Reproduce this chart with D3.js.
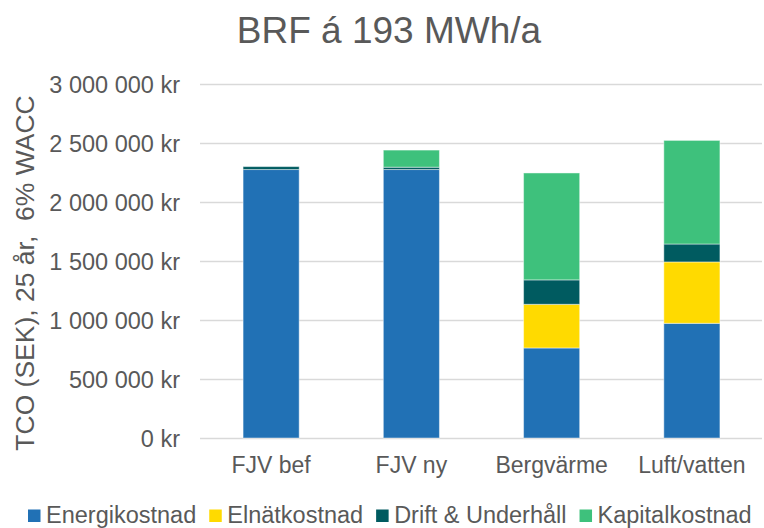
<!DOCTYPE html>
<meta charset="utf-8">
<html>
<script src="https://d3js.org/d3.v7.min.js"></script>
<style>
  body { margin: 0; background: #fff; }
  text { font-family: "Liberation Sans", Arial, sans-serif; fill: #595959; }
</style>
<body>
<div id="my_dataviz"></div>
<script>

    // chart data
    const categories = ["FJV bef", "FJV ny", "Bergvärme", "Luft/vatten"];
    const seriesNames = ["Energikostnad", "Elnätkostnad", "Drift & Underhåll", "Kapitalkostnad"];
    const energikostnad = [2275000, 2275000, 763000, 972000];
    const elnatkostnad = [0, 0, 370000, 520000];
    const driftUnderhall = [25000, 20000, 207000, 152000];
    const kapitalkostnad = [0, 145000, 906000, 878000];
    const yTicks = [0, 500000, 1000000, 1500000, 2000000, 2500000, 3000000];
    const colors = ["#2171b5", "#ffda00", "#005b60", "#3ec17c"];

    const width = 764, height = 528;
    const margin = {top: 84, right: 2, bottom: 90, left: 201};

    const svg = d3.select("#my_dataviz")
      .append("svg")
        .attr("width", width)
        .attr("height", height);

    // build rows for the stack
    const rows = categories.map(function(c, i) {
      return {
        cat: c,
        "Energikostnad": energikostnad[i],
        "Elnätkostnad": elnatkostnad[i],
        "Drift & Underhåll": driftUnderhall[i],
        "Kapitalkostnad": kapitalkostnad[i]
      };
    });
    const stacked = d3.stack().keys(seriesNames)(rows);

    const x = d3.scaleBand()
      .domain(categories)
      .range([margin.left, width - margin.right])
      .paddingInner(0.6)
      .paddingOuter(0.3);

    const y = d3.scaleLinear()
      .domain([0, 3000000])
      .range([height - margin.bottom, margin.top]);

    const fmt = function(d) {
      return d3.format(",")(d).replace(/,/g, " ") + " kr";
    };

    // gridlines
    svg.append("g")
      .attr("transform", `translate(${margin.left - 1},0)`)
      .call(d3.axisLeft(y).tickValues(yTicks).tickSize(-(width - margin.right - margin.left + 1)).tickFormat(""))
      .call(g => g.select(".domain").remove())
      .call(g => g.selectAll("line").attr("stroke", "#d9d9d9").attr("stroke-width", 1.5));

    // y tick labels
    svg.append("g")
      .attr("transform", `translate(${margin.left - 21},0)`)
      .call(d3.axisLeft(y).tickValues(yTicks).tickSize(0).tickPadding(0).tickFormat(fmt))
      .call(g => g.select(".domain").remove())
      .call(g => g.selectAll("text")
        .attr("dy", "0.35em")
        .style("font-size", "23.5px")
        .style("font-family", "Liberation Sans, Arial, sans-serif")
        .attr("fill", "#595959"));

    // bars
    svg.append("g")
      .selectAll("g")
      .data(stacked)
      .join("g")
        .attr("fill", (d, i) => colors[i])
      .selectAll("rect")
      .data(d => d)
      .join("rect")
        .attr("x", d => x(d.data.cat))
        .attr("y", d => y(d[1]))
        .attr("height", d => y(d[0]) - y(d[1]))
        .attr("width", x.bandwidth())
        .attr("stroke", "#ffffff")
        .attr("stroke-opacity", 0.45)
        .attr("stroke-width", 1);

    // x labels
    svg.append("g")
      .attr("transform", `translate(0,${height - margin.bottom})`)
      .call(d3.axisBottom(x).tickSize(0).tickPadding(0))
      .call(g => g.select(".domain").remove())
      .call(g => g.selectAll("text")
        .attr("y", 35)
        .attr("dy", 0)
        .style("font-size", "23px")
        .style("font-family", "Liberation Sans, Arial, sans-serif")
        .attr("fill", "#595959"));

    // title
    svg.append("text")
      .attr("x", 389)
      .attr("y", 43)
      .attr("text-anchor", "middle")
      .style("font-size", "37px")
      .text("BRF á 193 MWh/a");

    // y axis title
    svg.append("text")
      .attr("transform", "translate(34,273) rotate(-90)")
      .attr("text-anchor", "middle")
      .attr("xml:space", "preserve")
      .style("white-space", "pre")
      .style("font-size", "26.5px")
      .text("TCO (SEK), 25 år,  6% WACC");

    // legend
    const legend = svg.append("g");
    let lx = 28;
    seriesNames.forEach(function(name, i) {
      legend.append("rect")
        .attr("x", lx)
        .attr("y", 509.5)
        .attr("width", 12.5)
        .attr("height", 12.5)
        .attr("fill", colors[i]);
      const t = legend.append("text")
        .attr("x", lx + 18)
        .attr("y", 522.5)
        .style("font-size", "23.5px")
        .text(name);
      lx = lx + 18 + t.node().getComputedTextLength() + 13;
    });

</script>
</body>
</html>
